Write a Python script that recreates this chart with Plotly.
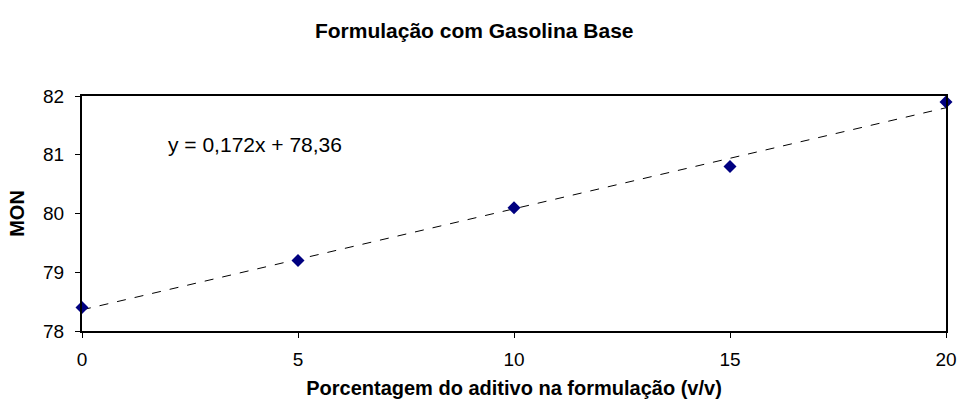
import plotly.graph_objects as go

# data
aditivo = [0, 5, 10, 15, 20]
mon = [78.4, 79.2, 80.1, 80.8, 81.9]
slope = 0.172
intercept = 78.36
trend_x = [0, 20]
trend_y = [intercept + slope * x for x in trend_x]

x_ticks = [0, 5, 10, 15, 20]
y_ticks = [78, 79, 80, 81, 82]

fig = go.Figure()

# linear trend line
fig.add_trace(go.Scatter(
    x=trend_x,
    y=trend_y,
    mode="lines",
    line=dict(color="black", width=1, dash="dash"),
    showlegend=False,
    hoverinfo="skip",
))

fig.add_trace(go.Scatter(
    x=aditivo,
    y=mon,
    mode="markers",
    marker=dict(symbol="diamond", size=10, color="#000080"),
    cliponaxis=False,
    showlegend=False,
))

fig.add_annotation(
    x=1.95, y=81.18, xref="x", yref="y",
    text="y = 0,172x + 78,36",
    showarrow=False, xanchor="left", yanchor="middle",
    font=dict(size=21, color="black"),
)

fig.update_layout(
    width=958,
    height=408,
    margin=dict(l=82, r=12, t=96, b=77),
    paper_bgcolor="white",
    plot_bgcolor="white",
    font=dict(family="Liberation Sans, Arial, sans-serif", color="black"),
    title=dict(
        text="<b>Formulação com Gasolina Base</b>",
        x=0.495, xanchor="center", y=0.926, yanchor="middle",
        font=dict(size=21),
    ),
    xaxis=dict(
        range=[0, 20],
        tickvals=x_ticks,
        showgrid=False, zeroline=False, automargin=False,
        showline=True, linecolor="black", linewidth=2, mirror=True,
        ticks="outside", ticklen=5, tickcolor="black",
        tickfont=dict(size=19),
        ticklabelstandoff=5,
        title=dict(text="<b>Porcentagem do aditivo na formulação (v/v)</b>",
                   font=dict(size=20), standoff=12),
    ),
    yaxis=dict(
        range=[78, 82],
        tickvals=y_ticks,
        showgrid=False, zeroline=False, automargin=False,
        showline=True, linecolor="black", linewidth=2, mirror=True,
        ticks="outside", ticklen=5, tickcolor="black",
        tickfont=dict(size=19),
        ticklabelstandoff=7,
        title=dict(text="<b>MON</b>", font=dict(size=20), standoff=13),
    ),
)

# the page body has a default margin; remove it so the figure sits at 0,0
fig.write_html(
    "out.html",
    config={"displayModeBar": False},
    post_script="document.body.style.margin='0';",
)
